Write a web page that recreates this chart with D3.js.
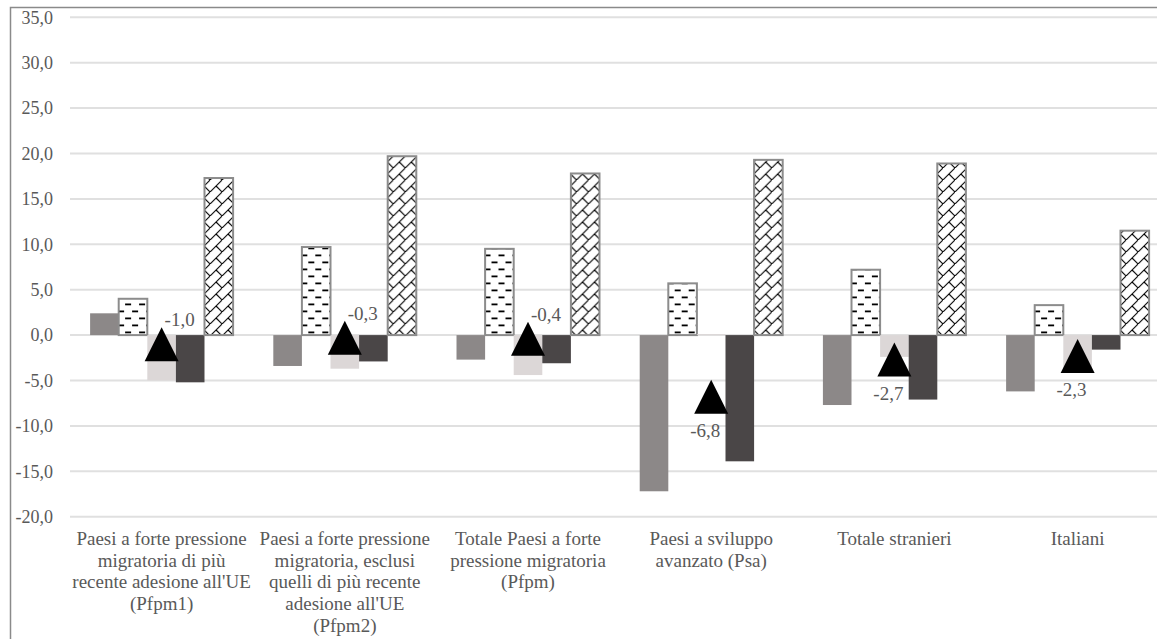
<!DOCTYPE html>
<html>
<head>
<meta charset="utf-8">
<script src="https://cdn.jsdelivr.net/npm/d3@7"></script>
<style>
  html, body { margin: 0; padding: 0; background: #fff; }
  svg { display: block; }
</style>
</head>
<body>
<svg id="chart" width="1157" height="639"></svg>
<script>
// ---- data ----
const categories = [
  "Paesi a forte pressione\nmigratoria di più\nrecente adesione all'UE\n(Pfpm1)",
  "Paesi a forte pressione\nmigratoria, esclusi\nquelli di più recente\nadesione all'UE\n(Pfpm2)",
  "Totale Paesi a forte\npressione migratoria\n(Pfpm)",
  "Paesi a sviluppo\navanzato (Psa)",
  "Totale stranieri",
  "Italiani"
];
const seriesNames = ["Serie 1", "Serie 2", "Serie 3", "Serie 4", "Serie 5"];
const serie1 = [2.4, -3.4, -2.7, -17.2, -7.7, -6.2];
const serie2 = [4.0, 9.7, 9.5, 5.7, 7.2, 3.3];
const serie3 = [-5.0, -3.7, -4.4, 0.1, -2.4, -4.0];
const serie4 = [-5.2, -2.9, -3.1, -13.9, -7.1, -1.6];
const serie5 = [17.3, 19.7, 17.8, 19.3, 18.9, 11.5];
const markerValues = [-1.0, -0.3, -0.4, -6.8, -2.7, -2.3];
const markerLabelPlacement = ["above", "above", "above", "below", "below", "below"];
const yTicks = [-20, -15, -10, -5, 0, 5, 10, 15, 20, 25, 30, 35];

const seriesValues = [serie1, serie2, serie3, serie4, serie5];
const seriesFill = ["#8c8888", "url(#dashes)", "#dcd7d7", "#4a4647", "url(#brick)"];
const seriesStroke = [null, "#8c8c8c", null, null, "#8c8c8c"];

const FONT = "'Liberation Serif', Tinos, 'Times New Roman', 'DejaVu Serif', serif";
const TXT = "#595959";

// ---- layout ----
const svg = d3.select("#chart");
const plotLeft = 70, plotRight = 1169.2, plotTop = 17.3, plotBottom = 516.7;

const locale = d3.formatLocale({decimal: ",", thousands: ".", grouping: [3], currency: ["€", ""], minus: "-"});
const fmt = locale.format(".1f");

const y = d3.scaleLinear().domain([-20, 35]).range([plotBottom, plotTop]);
const pad = 0.2195;
const x0 = d3.scaleBand().domain(categories).range([plotLeft, plotRight])
  .paddingInner(pad).paddingOuter(pad / 2);
const x1 = d3.scaleBand().domain(seriesNames).range([0, x0.bandwidth()]).padding(0);

// ---- patterns ----
const defs = svg.append("defs");
const pDash = defs.append("pattern").attr("id", "dashes").attr("patternUnits", "userSpaceOnUse")
  .attr("width", 14).attr("height", 14);
pDash.append("rect").attr("width", 14).attr("height", 14).attr("fill", "#fff");
pDash.append("rect").attr("x", 0).attr("y", 2.5).attr("width", 6).attr("height", 1.8).attr("fill", "#000");
pDash.append("rect").attr("x", 7).attr("y", 9.5).attr("width", 6).attr("height", 1.8).attr("fill", "#000");

const pBrick = defs.append("pattern").attr("id", "brick").attr("patternUnits", "userSpaceOnUse")
  .attr("width", 12).attr("height", 12);
pBrick.append("rect").attr("width", 12).attr("height", 12).attr("fill", "#fff");
pBrick.append("path").attr("d", "M-1,13 L13,-1 M6,6 L12,12")
  .attr("stroke", "#000").attr("stroke-width", 1.1).attr("fill", "none");

// ---- outer border ----
svg.append("rect").attr("x", 10.5).attr("y", 7.5).attr("width", 1300).attr("height", 800)
  .attr("fill", "none").attr("stroke", "#8a8a8a").attr("stroke-width", 1.5);

// ---- gridlines ----
svg.append("g").selectAll("line").data(yTicks).join("line")
  .attr("x1", plotLeft).attr("x2", plotRight)
  .attr("y1", d => y(d)).attr("y2", d => y(d))
  .attr("stroke", "#e0e0e0").attr("stroke-width", 2);

// ---- y axis labels ----
const yAxis = d3.axisLeft(y).tickValues(yTicks).tickFormat(fmt).tickSize(0).tickPadding(17);
const gy = svg.append("g").attr("transform", `translate(${plotLeft},0)`).call(yAxis);
gy.select(".domain").remove();
gy.attr("font-family", null).attr("font-size", null);
gy.selectAll("text").style("font-family", FONT).style("font-size", "18px").style("fill", TXT);

// ---- bars ----
const groups = svg.append("g").selectAll("g").data(categories).join("g")
  .attr("transform", d => `translate(${x0(d)},0)`);
groups.selectAll("rect")
  .data((c, i) => seriesNames.map((s, k) => ({s, k, v: seriesValues[k][i]})))
  .join("rect")
  .attr("x", d => x1(d.s))
  .attr("width", x1.bandwidth())
  .attr("y", d => y(Math.max(0, d.v)))
  .attr("height", d => Math.abs(y(d.v) - y(0)))
  .attr("fill", d => seriesFill[d.k])
  .attr("stroke", d => seriesStroke[d.k])
  .attr("stroke-width", d => seriesStroke[d.k] ? 2 : 0);

// ---- triangle markers ----
const triW = 34, triH = 34;
const cx = i => x0(categories[i]) + x0.bandwidth() / 2;
svg.append("g").selectAll("path").data(markerValues).join("path")
  .attr("d", (v, i) => {
    const X = cx(i), Y = y(v);
    return `M${X},${Y - triH / 2} L${X + triW / 2},${Y + triH / 2} L${X - triW / 2},${Y + triH / 2} Z`;
  })
  .attr("fill", "#000");

// ---- marker labels ----
svg.append("g").selectAll("text").data(markerValues).join("text")
  .style("font-family", FONT).style("font-size", "19px").style("fill", TXT)
  .attr("x", (v, i) => markerLabelPlacement[i] === "above" ? cx(i) + 3 : cx(i) - 6)
  .attr("y", (v, i) => markerLabelPlacement[i] === "above" ? y(v) - 18 : y(v) + 40)
  .attr("text-anchor", (v, i) => markerLabelPlacement[i] === "above" ? "start" : "middle")
  .text(v => fmt(v));

// ---- category labels ----
const cl = svg.append("g").selectAll("text").data(categories).join("text")
  .style("font-family", FONT).style("font-size", "19px").style("fill", TXT)
  .attr("text-anchor", "middle")
  .attr("x", d => x0(d) + x0.bandwidth() / 2)
  .attr("y", 545);
cl.selectAll("tspan").data(d => d.split("\n")).join("tspan")
  .attr("x", function () { return d3.select(this.parentNode).attr("x"); })
  .attr("dy", (d, i) => i === 0 ? 0 : 21.7)
  .text(d => d);
</script>
</body>
</html>
